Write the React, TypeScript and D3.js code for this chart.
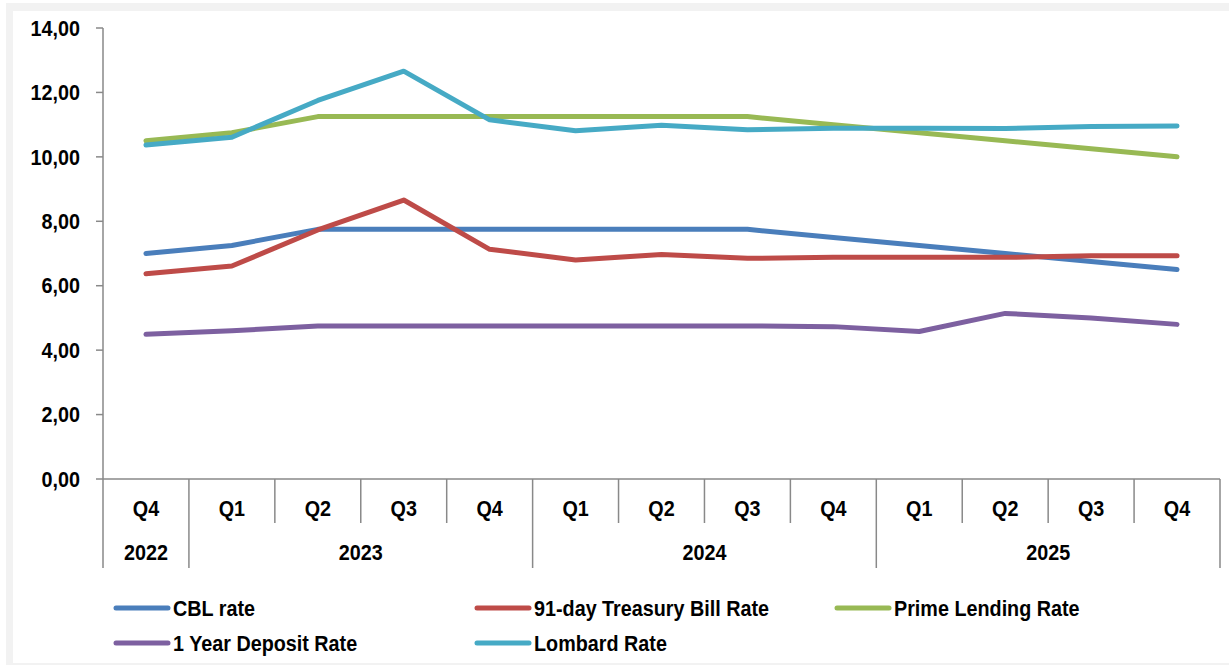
import React from "react";
import * as d3 from "d3";

const quarters = ["Q4", "Q1", "Q2", "Q3", "Q4", "Q1", "Q2", "Q3", "Q4", "Q1", "Q2", "Q3", "Q4"];
const years = [
  { label: "2022", start: 0, end: 1 },
  { label: "2023", start: 1, end: 5 },
  { label: "2024", start: 5, end: 9 },
  { label: "2025", start: 9, end: 13 },
];
const yTicks = [0, 2, 4, 6, 8, 10, 12, 14];

const cblRate = [7.0, 7.25, 7.75, 7.75, 7.75, 7.75, 7.75, 7.75, 7.5, 7.25, 7.0, 6.75, 6.5];
const tbillRate = [6.37, 6.61, 7.73, 8.66, 7.13, 6.8, 6.97, 6.85, 6.88, 6.88, 6.88, 6.93, 6.93];
const primeRate = [10.5, 10.75, 11.25, 11.25, 11.25, 11.25, 11.25, 11.25, 11.0, 10.75, 10.5, 10.25, 10.0];
const depositRate = [4.49, 4.6, 4.75, 4.75, 4.75, 4.75, 4.75, 4.75, 4.73, 4.58, 5.14, 5.0, 4.8];
const lombardRate = [10.37, 10.61, 11.75, 12.66, 11.15, 10.81, 10.98, 10.84, 10.89, 10.89, 10.88, 10.94, 10.96];

const series = [
  { name: "CBL rate", values: cblRate, color: "#4a7ebb" },
  { name: "91-day Treasury Bill Rate", values: tbillRate, color: "#be4b48" },
  { name: "Prime Lending Rate", values: primeRate, color: "#98b954" },
  { name: "1 Year Deposit Rate", values: depositRate, color: "#7d60a0" },
  { name: "Lombard Rate", values: lombardRate, color: "#46aac5" },
];

const FONT = "'Liberation Sans', Arial, sans-serif";
const AXIS = "#898989";

function Label(props: { x: number; y: number; anchor?: string; children: React.ReactNode }) {
  return (
    <g transform={`translate(${props.x},${props.y}) scale(0.92,1)`}>
      <text
        x={0}
        y={0}
        dy="0.36em"
        textAnchor={props.anchor || "start"}
        fontFamily={FONT}
        fontWeight="bold"
        fontSize={21.5}
        fill="#000"
      >
        {props.children}
      </text>
    </g>
  );
}

export default function App() {
  const left = 103;
  const right = 1220;
  const top = 28;
  const bottom = 479;
  const x = d3.scaleBand<number>().domain(d3.range(quarters.length)).range([left, right]).padding(0);
  const y = d3.scaleLinear().domain([0, 14]).range([bottom, top]);
  const cx = (i: number) => (x(i) as number) + x.bandwidth() / 2;
  const line = d3
    .line<number>()
    .x((_, i) => cx(i))
    .y((d) => y(d));
  const fmt = (v: number) => d3.format(".2f")(v).replace(".", ",");
  const boundaryX = (i: number) => (i < quarters.length ? (x(i) as number) : right);
  const yearBounds = new Set<number>();
  years.forEach((yr) => {
    yearBounds.add(yr.start);
    yearBounds.add(yr.end);
  });

  const legendCols = [116, 477, 837];
  const legendRows = [608, 643];

  return (
    <div style={{ position: "absolute", left: 0, top: 0 }}>
      <svg width={1229} height={666} style={{ display: "block" }}>
        <rect x={0} y={0} width={1229} height={666} fill="#ffffff" />
        <rect x={6} y={3} width={1230} height={662} fill="#f2f2f2" />
        <rect x={13} y={11} width={1225} height={652} fill="#ffffff" />

        {/* y axis */}
        <line x1={left} x2={left} y1={top} y2={bottom} stroke={AXIS} strokeWidth={1.5} />
        {yTicks.map((t) => (
          <g key={t}>
            <line x1={left - 7} x2={left} y1={y(t)} y2={y(t)} stroke={AXIS} strokeWidth={1.5} />
            <Label x={80} y={y(t)} anchor="end">
              {fmt(t)}
            </Label>
          </g>
        ))}

        {/* x axis */}
        <line x1={left} x2={right} y1={bottom} y2={bottom} stroke={AXIS} strokeWidth={1.5} />
        {d3.range(quarters.length + 1).map((i) => (
          <line
            key={"b" + i}
            x1={boundaryX(i)}
            x2={boundaryX(i)}
            y1={bottom}
            y2={yearBounds.has(i) ? 568 : 523}
            stroke={AXIS}
            strokeWidth={1.5}
          />
        ))}
        {quarters.map((q, i) => (
          <Label key={"q" + i} x={cx(i)} y={508} anchor="middle">
            {q}
          </Label>
        ))}
        {years.map((yr) => (
          <Label key={yr.label} x={(boundaryX(yr.start) + boundaryX(yr.end)) / 2} y={552} anchor="middle">
            {yr.label}
          </Label>
        ))}

        {/* lines */}
        {series.map((s) => (
          <path
            key={s.name}
            d={line(s.values) || ""}
            fill="none"
            stroke={s.color}
            strokeWidth={5}
            strokeLinecap="round"
            strokeLinejoin="round"
          />
        ))}

        {/* legend */}
        {series.map((s, i) => {
          const col = i % 3;
          const row = Math.floor(i / 3);
          const lx = legendCols[col];
          const ly = legendRows[row];
          return (
            <g key={"l" + s.name}>
              <line x1={lx} x2={lx + 52} y1={ly} y2={ly} stroke={s.color} strokeWidth={5} strokeLinecap="round" />
              <Label x={lx + 57} y={ly}>
                {s.name}
              </Label>
            </g>
          );
        })}
      </svg>
    </div>
  );
}
